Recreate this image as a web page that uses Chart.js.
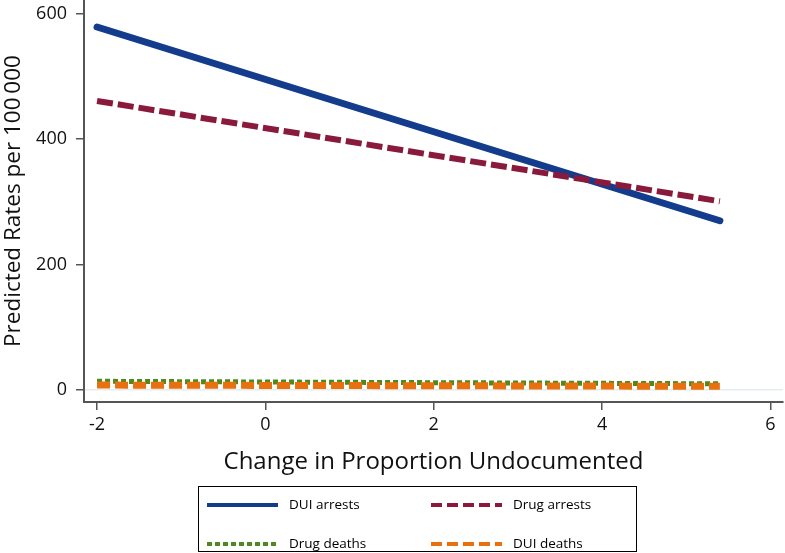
<!DOCTYPE html>
<html lang="en">
<head>
  <meta charset="UTF-8" />
  <title>Predicted Rates per 100 000</title>
  <script src="https://cdn.jsdelivr.net/npm/chart.js"></script>
  <style>
    body { margin: 0; background: #fff; }
    #wrap { width: 785px; height: 553px; }
  </style>
</head>
<body>
  <div id="wrap"><canvas id="rates"></canvas></div>

  <script>
    // values
    const xPoints = [-2, 5.4];
    const duiArrests = [579, 270];
    const drugArrests = [461, 301];
    const drugDeaths = [14, 10];
    const duiDeaths = [8, 6];
    const xTicks = [-2, 0, 2, 4, 6];
    const yTicks = [0, 200, 400, 600];

    const FONT = '"Open Sans", sans-serif';
    const toPoints = ys => xPoints.map((x, i) => ({ x, y: ys[i] }));

    const series = [
      { label: 'DUI arrests', data: duiArrests, color: '#143c8c', width: 7, dash: [], cap: 'round', order: 4, legendDash: [] },
      { label: 'Drug arrests', data: drugArrests, color: '#8a1a3c', width: 6, dash: [16, 5], cap: 'butt', order: 3, legendDash: [11, 5] },
      { label: 'Drug deaths', data: drugDeaths, color: '#4a8a1e', width: 5, dash: [5, 3], cap: 'butt', order: 2, legendDash: [5, 3] },
      { label: 'DUI deaths', data: duiDeaths, color: '#e8700e', width: 7, dash: [13, 5], cap: 'butt', order: 1, legendDash: [11, 5] }
    ];

    // legend box drawn under the plot, two columns like the original
    const boxLegend = {
      id: 'boxLegend',
      afterDraw(chart) {
        const ctx = chart.ctx;
        ctx.save();
        ctx.strokeStyle = '#000';
        ctx.lineWidth = 1;
        ctx.strokeRect(198.5, 486.5, 438, 65);
        const slots = [
          { x: 207, y: 505 }, { x: 431, y: 505 },
          { x: 207, y: 544 }, { x: 431, y: 544 }
        ];
        series.forEach((s, i) => {
          const p = slots[i];
          ctx.beginPath();
          ctx.setLineDash(s.legendDash);
          ctx.lineCap = 'butt';
          ctx.strokeStyle = s.color;
          ctx.lineWidth = 4;
          ctx.moveTo(p.x, p.y);
          ctx.lineTo(p.x + 71, p.y);
          ctx.stroke();
          ctx.setLineDash([]);
          ctx.fillStyle = '#000';
          ctx.font = '13.5px ' + FONT;
          ctx.textBaseline = 'middle';
          ctx.fillText(s.label, p.x + 82, p.y);
        });
        ctx.restore();
      }
    };

    new Chart(document.getElementById('rates'), {
      type: 'line',
      data: {
        datasets: series.map(s => ({
          label: s.label,
          data: toPoints(s.data),
          borderColor: s.color,
          borderWidth: s.width,
          borderDash: s.dash,
          borderCapStyle: s.cap,
          pointRadius: 0,
          fill: false,
          order: s.order
        }))
      },
      options: {
        responsive: true,
        maintainAspectRatio: false,
        animation: false,
        layout: { padding: { left: 0, right: 2, top: 0, bottom: 73 } },
        plugins: {
          legend: { display: false },
          tooltip: { enabled: false }
        },
        scales: {
          x: {
            type: 'linear',
            min: -2.155,
            max: 6.15,
            afterBuildTicks: s => { s.ticks = xTicks.map(v => ({ value: v })); },
            afterFit: s => { s.height = 78; s.paddingLeft = 0; s.paddingRight = 0; },
            border: { color: '#555', width: 2 },
            grid: { drawOnChartArea: false, tickLength: 8, color: '#555', lineWidth: 1.5 },
            ticks: { font: { family: FONT, size: 18 }, color: '#111', padding: 4, maxRotation: 0 },
            title: {
              display: true,
              text: 'Change in Proportion Undocumented',
              font: { family: FONT, size: 24 },
              color: '#111',
              padding: { top: 0, bottom: 3 }
            }
          },
          y: {
            min: -19,
            max: 622,
            afterBuildTicks: s => { s.ticks = yTicks.map(v => ({ value: v })); },
            afterFit: s => { s.width = 84; s.paddingTop = 0; s.paddingBottom = 0; },
            border: { color: '#555', width: 2 },
            grid: {
              tickLength: 8,
              lineWidth: 1.5,
              color: c => c.tick && c.tick.value === 0 ? '#e6edf1' : 'rgba(0,0,0,0)',
              tickColor: '#555'
            },
            ticks: { font: { family: FONT, size: 18 }, color: '#111', padding: 9 },
            title: {
              display: true,
              text: 'Predicted Rates per 100\u2009000',
              font: { family: FONT, size: 22.5 },
              color: '#111',
              padding: { top: 0, bottom: 0 }
            }
          }
        }
      },
      plugins: [boxLegend]
    });
  </script>
</body>
</html>
